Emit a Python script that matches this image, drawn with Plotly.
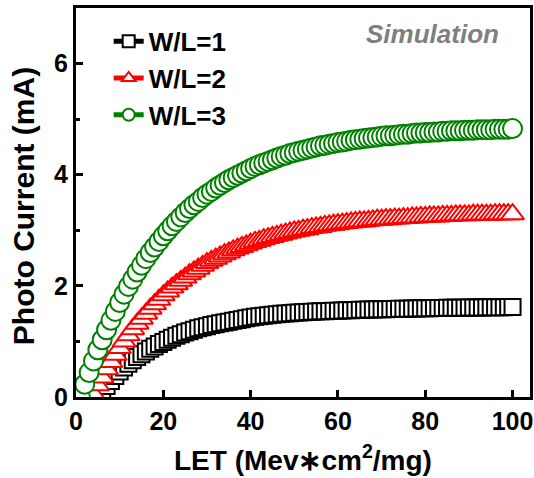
import plotly.graph_objects as go

# ---- data ----
x_black = list(range(5, 101))
y_black = [0.00, 0.10, 0.20, 0.29, 0.38, 0.46, 0.53, 0.60, 0.66, 0.72,
           0.77, 0.82, 0.87, 0.91, 0.955, 0.99, 1.03, 1.065, 1.10, 1.13,
           1.16, 1.185, 1.21, 1.235, 1.255, 1.275, 1.295, 1.31, 1.325, 1.34,
           1.355, 1.37, 1.385, 1.40, 1.415, 1.43, 1.442, 1.453, 1.463, 1.472,
           1.481, 1.489, 1.496, 1.503, 1.509, 1.515, 1.52, 1.525, 1.53, 1.534,
           1.538, 1.542, 1.545, 1.548, 1.551, 1.554, 1.557, 1.56, 1.563, 1.566,
           1.569, 1.571, 1.573, 1.575, 1.577, 1.579, 1.581, 1.583, 1.585, 1.587,
           1.589, 1.59, 1.592, 1.594, 1.595, 1.597, 1.598, 1.60, 1.601, 1.602,
           1.604, 1.605, 1.606, 1.607, 1.608, 1.609, 1.61, 1.611, 1.612, 1.613,
           1.614, 1.615, 1.616, 1.617, 1.618, 1.62]

x_red = list(range(4, 101))
y_red = [0.05, 0.21, 0.35, 0.50, 0.63, 0.76, 0.88, 1.00, 1.11, 1.22,
         1.32, 1.41, 1.50, 1.59, 1.67, 1.75, 1.83, 1.90, 1.97, 2.03,
         2.09, 2.15, 2.21, 2.26, 2.31, 2.36, 2.41, 2.45, 2.49, 2.53,
         2.57, 2.60, 2.64, 2.67, 2.70, 2.73, 2.76, 2.79, 2.81, 2.84,
         2.86, 2.88, 2.90, 2.92, 2.94, 2.96, 2.98, 2.99, 3.01, 3.02,
         3.04, 3.05, 3.06, 3.08, 3.09, 3.10, 3.11, 3.12, 3.13, 3.14,
         3.15, 3.16, 3.16, 3.17, 3.18, 3.19, 3.19, 3.20, 3.20, 3.21,
         3.21, 3.22, 3.22, 3.23, 3.23, 3.24, 3.24, 3.25, 3.25, 3.25,
         3.26, 3.26, 3.26, 3.27, 3.27, 3.27, 3.27, 3.28, 3.28, 3.28,
         3.28, 3.28, 3.29, 3.29, 3.29, 3.29, 3.29]

x_green = list(range(1, 101))
y_green = [0.00, 0.23, 0.44, 0.65, 0.85, 1.03, 1.21, 1.38, 1.54, 1.70,
           1.85, 1.99, 2.12, 2.25, 2.37, 2.49, 2.60, 2.70, 2.80, 2.90,
           2.99, 3.08, 3.16, 3.24, 3.32, 3.39, 3.46, 3.52, 3.59, 3.65,
           3.70, 3.76, 3.81, 3.86, 3.91, 3.95, 3.99, 4.03, 4.07, 4.11,
           4.15, 4.18, 4.21, 4.24, 4.27, 4.30, 4.33, 4.35, 4.38, 4.40,
           4.42, 4.44, 4.46, 4.48, 4.50, 4.52, 4.53, 4.55, 4.56, 4.58,
           4.59, 4.60, 4.62, 4.63, 4.64, 4.65, 4.66, 4.67, 4.68, 4.69,
           4.70, 4.70, 4.71, 4.72, 4.73, 4.73, 4.74, 4.75, 4.75, 4.76,
           4.76, 4.77, 4.77, 4.78, 4.78, 4.79, 4.79, 4.79, 4.80, 4.80,
           4.80, 4.81, 4.81, 4.81, 4.81, 4.82, 4.82, 4.82, 4.82, 4.83]

series_names = ["W/L=1", "W/L=2", "W/L=3"]
x_ticks = [0, 20, 40, 60, 80, 100]
y_ticks = [0, 2, 4, 6]

FONT = "Liberation Sans, Arial, sans-serif"

fig = go.Figure()
styles = [
    (x_black, y_black, "#000000", "square", 16),
    (x_red, y_red, "#ff0000", "triangle-up", 20),
    (x_green, y_green, "#008000", "circle", 19),
]
for (xs, ys, col, sym, sz), name in zip(styles, series_names):
    fig.add_trace(go.Scatter(
        x=xs, y=ys, name=name, mode="lines+markers",
        line=dict(color=col, width=3),
        marker=dict(symbol=sym, size=sz, color="white",
                    line=dict(color=col, width=2)),
    ))

axis_common = dict(
    showline=True, linewidth=3, linecolor="black", mirror=True,
    ticks="inside", ticklen=7, tickwidth=2.5, tickcolor="black",
    showgrid=False, zeroline=False, automargin=False,
    tickfont=dict(family=FONT, size=25, color="black", weight="bold"),
)

fig.update_xaxes(range=[0, 104], tickvals=x_ticks, **axis_common)
fig.update_yaxes(range=[0, 7], tickvals=y_ticks, **axis_common,
                 minor=dict(ticks="inside", ticklen=4, tickwidth=2.5,
                            tickcolor="black", dtick=1, tick0=0))

fig.add_annotation(text="LET (Mev∗cm<sup>2</sup>/mg)", xref="paper", yref="paper",
                   x=0.5, y=-0.157, showarrow=False, xanchor="center", yanchor="middle",
                   font=dict(family=FONT, size=28, color="black", weight="bold"))
fig.add_annotation(text="Photo Current (mA)", xref="paper", yref="paper",
                   x=-0.115, y=0.49, showarrow=False, xanchor="center", yanchor="middle",
                   textangle=-90,
                   font=dict(family=FONT, size=30, color="black", weight="bold"))

fig.add_annotation(text="<i>Simulation</i>", xref="paper", yref="paper",
                   x=0.786, y=0.933, showarrow=False, xanchor="center", yanchor="middle",
                   font=dict(family=FONT, size=26, color="#7f7f7f", weight="bold"))

fig.update_layout(
    width=534, height=478,
    margin=dict(l=76, r=4, t=8, b=81),
    paper_bgcolor="white", plot_bgcolor="white",
    showlegend=True,
    legend=dict(x=0.072, y=0.975, xanchor="left", yanchor="top",
                bgcolor="rgba(0,0,0,0)", itemsizing="constant",
                font=dict(family=FONT, size=26, color="black", weight="bold"),
                tracegroupgap=0),
)

# remove the page's default body margin so the figure fills the window exactly
fig.write_html("out.html",
               config={"displayModeBar": False},
               post_script="document.body.style.margin='0';document.body.style.overflow='hidden';")
